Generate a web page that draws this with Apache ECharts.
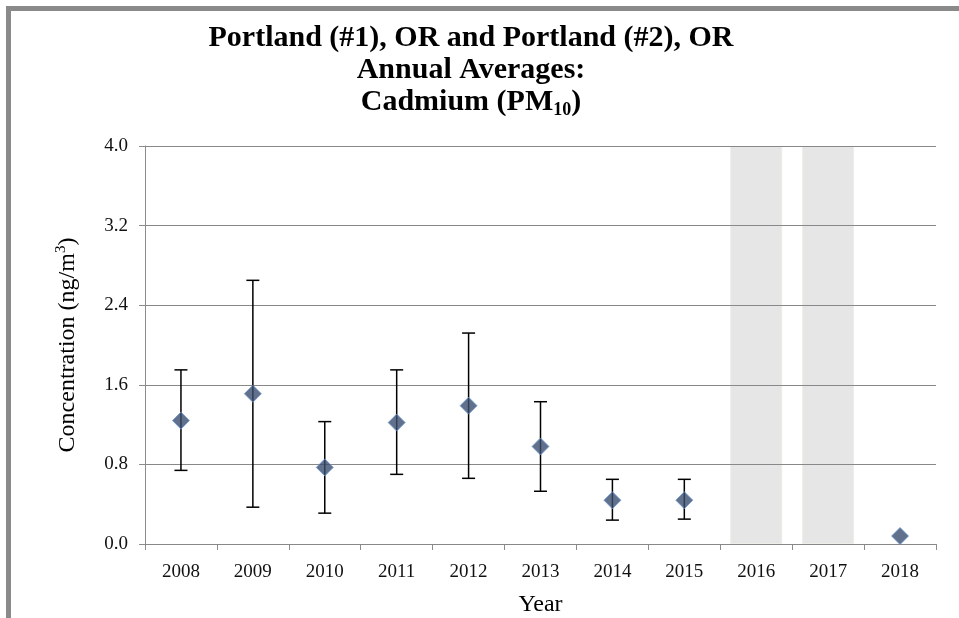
<!DOCTYPE html>
<html>
<head>
<meta charset="utf-8">
<script src="https://cdn.jsdelivr.net/npm/echarts@6/dist/echarts.min.js"></script>
<style>
  html, body { margin: 0; padding: 0; background: #fff; }
  #main { width: 959px; height: 618px; }
</style>
</head>
<body>
<div id="main"></div>
<script>
// values
const years = ["2008", "2009", "2010", "2011", "2012", "2013", "2014", "2015", "2016", "2017", "2018"];
const averages = [1.24, 1.51, 0.77, 1.22, 1.39, 0.98, 0.44, 0.44, null, null, 0.08];
const lowerCI = [0.74, 0.37, 0.31, 0.70, 0.66, 0.53, 0.24, 0.25, null, null, null];
const upperCI = [1.75, 2.65, 1.23, 1.75, 2.12, 1.43, 0.65, 0.65, null, null, null];
// years with no data shown as shaded columns
const noData = [null, null, null, null, null, null, null, null, 4.0, 4.0, null];

const errData = [];
years.forEach(function (y, i) {
  if (lowerCI[i] != null) errData.push([i, lowerCI[i], upperCI[i]]);
});

const serif = "'Liberation Serif', 'DejaVu Serif', serif";
const chart = echarts.init(document.getElementById("main"));

const option = {
  backgroundColor: "#fff",
  animation: false,
  graphic: [
    { type: "rect", shape: { x: 6, y: 6, width: 953, height: 5 }, style: { fill: "#8a8a8a" } },
    { type: "rect", shape: { x: 6, y: 6, width: 5, height: 612 }, style: { fill: "#8a8a8a" } },
    {
      type: "text",
      x: 471,
      y: 22,
      style: {
        text: "{b|Portland (#1), OR and Portland (#2), OR}\n{b|Annual Averages:}\n{b|Cadmium (PM}{s|10}{b|)}",
        align: "center",
        verticalAlign: "top",
        rich: {
          b: { fontFamily: serif, fontWeight: "bold", fontSize: 30, fill: "#000", lineHeight: 32 },
          s: { fontFamily: serif, fontWeight: "bold", fontSize: 18, fill: "#000", lineHeight: 32, padding: [16, 0, 0, 0] }
        }
      }
    }
  ],
  grid: { left: 145, right: 23, top: 146, bottom: 74, outerBoundsMode: "none" },
  xAxis: {
    type: "category",
    data: years,
    name: "Year",
    nameLocation: "middle",
    nameGap: 49,
    nameTextStyle: { fontFamily: serif, fontSize: 24, color: "#000" },
    axisLine: { lineStyle: { color: "#8c8c8c", width: 1 } },
    axisTick: { show: true, length: 6, lineStyle: { color: "#8c8c8c" } },
    axisLabel: { fontFamily: serif, fontSize: 19, color: "#111", margin: 19 }
  },
  yAxis: {
    type: "value",
    min: 0,
    max: 4,
    interval: 0.8,
    z: 1,
    name: "{n|Concentration (ng/m}{p|3}{n|)}",
    nameLocation: "middle",
    nameGap: 64,
    nameTextStyle: {
      rich: {
        n: { fontFamily: serif, fontSize: 24, color: "#000" },
        p: { fontFamily: serif, fontSize: 15, color: "#000", padding: [0, 0, 12, 0] }
      }
    },
    axisLine: { show: true, lineStyle: { color: "#8c8c8c", width: 1 } },
    axisTick: { show: true, length: 6, lineStyle: { color: "#8c8c8c" } },
    splitLine: { lineStyle: { color: "#888", width: 1.2 } },
    axisLabel: {
      fontFamily: serif, fontSize: 19, color: "#111", margin: 17,
      formatter: function (v) { return v.toFixed(1); }
    }
  },
  series: [
    {
      type: "bar",
      data: noData,
      barWidth: 52,
      z: 0,
      itemStyle: { color: "#e6e6e6", borderColor: "#eeeee6", borderWidth: 1 },
      silent: true
    },
    {
      type: "custom",
      z: 3,
      data: errData,
      renderItem: function (params, api) {
        const x = api.value(0);
        const lo = api.coord([x, api.value(1)]);
        const hi = api.coord([x, api.value(2)]);
        const cap = 6.5;
        const st = { stroke: "#000", lineWidth: 1.5 };
        return {
          type: "group",
          children: [
            { type: "line", shape: { x1: lo[0], y1: lo[1], x2: hi[0], y2: hi[1] }, style: st },
            { type: "line", shape: { x1: lo[0] - cap, y1: lo[1], x2: lo[0] + cap, y2: lo[1] }, style: st },
            { type: "line", shape: { x1: hi[0] - cap, y1: hi[1], x2: hi[0] + cap, y2: hi[1] }, style: st }
          ]
        };
      }
    },
    {
      type: "scatter",
      z: 4,
      data: averages,
      symbol: "diamond",
      symbolSize: [17, 17],
      itemStyle: { color: "#394e6e", borderColor: "#6f97d4", borderWidth: 1 }
    }
  ]
};

chart.setOption(option);
</script>
</body>
</html>
